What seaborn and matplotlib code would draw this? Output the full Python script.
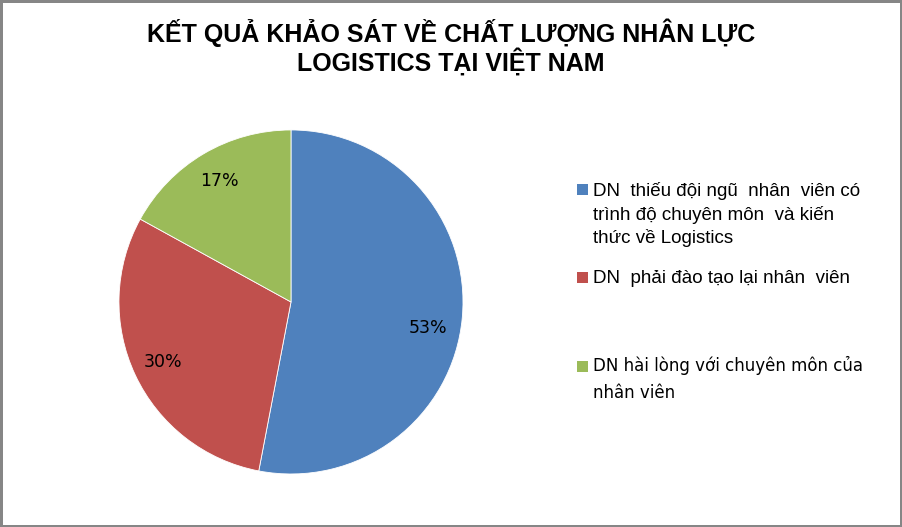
import numpy as np
import matplotlib
matplotlib.use('Agg')
import matplotlib.pyplot as plt
import matplotlib.patches as mpatches
import seaborn as sns

# data
categories = [
    'DN  thiếu đội ngũ  nhân  viên có\ntrình độ chuyên môn  và kiến\nthức về Logistics',
    'DN  phải đào tạo lại nhân  viên',
    'DN hài lòng với chuyên môn của\nnhân viên',
]
values = [53, 30, 17]
colors = ['#4F81BD', '#C0504D', '#9BBB59']
title = 'KẾT QUẢ KHẢO SÁT VỀ CHẤT LƯỢNG NHÂN LỰC\nLOGISTICS TẠI VIỆT NAM'

sns.set_theme(style='white')
plt.rcParams['font.family'] = ['Liberation Sans', 'DejaVu Sans']
plt.rcParams['text.color'] = 'black'

W, H = 902, 527
fig = plt.figure(figsize=(W / 100, H / 100), dpi=100)
fig.patch.set_facecolor('white')
fig.patch.set_edgecolor('#868686')
fig.patch.set_linewidth(2.5)

ax = fig.add_axes([0.1319, 0.1006, 0.3814, 0.6528])
wedges, texts, autotexts = ax.pie(
    values, colors=colors, startangle=90, counterclock=False,
    autopct='%1.0f%%', pctdistance=0.82, radius=1,
    wedgeprops=dict(linewidth=0.6, edgecolor='white'),
    textprops=dict(fontsize=12.5, color='black', family=['DejaVu Sans']),
)
ax.set_xlim(-1, 1)
ax.set_ylim(-1, 1)
ax.set_aspect('equal')
ax.axis('off')

# move 53% slightly like the original best-fit placement
ang = np.deg2rad(-10.7)
autotexts[0].set_position((0.81 * np.cos(ang), 0.81 * np.sin(ang)))

fig.text(0.5, 0.91, title, ha='center', va='center', fontsize=18,
         fontweight='bold', linespacing=1.02,
         family=['Liberation Sans Narrow', 'Liberation Sans'])

# legend entries (uneven gaps as in the original)
# first-line baseline in px, and line pitch in px
base_px = [195, 283, 372]
pitch_px = [24, 24, 26]
leg_fonts = [['Liberation Sans'], ['Liberation Sans'], ['DejaVu Sans']]
leg_sizes = [13.5, 13.5, 12]
leg_ls = [1.39, 1.39, 1.66]
for lab, col, b, p, fam, fs, ls in zip(categories, colors, base_px, pitch_px,
                                       leg_fonts, leg_sizes, leg_ls):
    sq = mpatches.Rectangle((577 / W, 1 - b / H), 11 / W, 11 / H,
                            transform=fig.transFigure, facecolor=col,
                            edgecolor='none')
    fig.patches.append(sq)
    last = b + p * lab.count('\n')
    fig.text(593 / W, 1 - last / H, lab, ha='left', va='baseline',
             fontsize=fs, family=fam, linespacing=ls)

fig.savefig('out.png', dpi=100, facecolor=fig.get_facecolor(),
            edgecolor=fig.get_edgecolor())
